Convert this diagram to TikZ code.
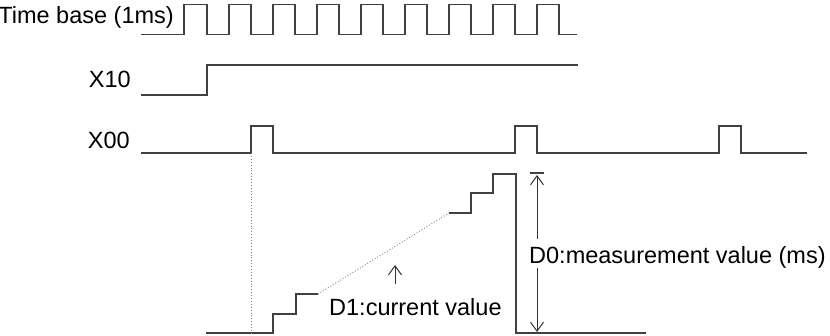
\documentclass[tikz,border=0pt]{standalone}
\usepackage{fontspec}
\setmainfont{Liberation Sans}
\usetikzlibrary{arrows.meta}

\begin{document}
\begin{tikzpicture}[
  x=1pt, y=-1pt,
  every node/.style={font=\fontsize{23.5}{27}\selectfont, inner sep=0pt},
  wave/.style={line width=1.3pt, black!75},
  guide/.style={line width=0.9pt, gray, dotted},
  arr/.style={-{Straight Barb[length=9pt, width=13pt]}, line width=1pt, black!80}
]
\useasboundingbox (0,0) rectangle (830,335);

%% Signal names
\node[anchor=base east] (tb)  at (174,23)  {Time base (1ms)};
\node[anchor=base east] (x10) at (131,87)  {X10};
\node[anchor=base east] (x00) at (130,148) {X00};

%% Time base (1ms)
\draw[wave] (141,34.5) -- (184,34.5) |- (207,4.7) |- (229,34.5) |- (251,4.7)
  |- (273,34.5) |- (295,4.7) |- (317,34.5) |- (339,4.7) |- (361,34.5)
  |- (383,4.7) |- (405,34.5) |- (427,4.7) |- (449,34.5) |- (471,4.7)
  |- (493,34.5) |- (515,4.7) |- (537,34.5) |- (559,4.7) |- (577,34.5);

%% X10
\draw[wave] (141,95) -- (207,95) |- (578,65);

%% X00
\draw[wave] (141,153) -- (251,153) |- (273,126) |- (515,153) |- (537,126)
  |- (719,153) |- (741,126) |- (807,153);

%% D1 stairs
\draw[wave] (206,333) -- (273,333) |- (296,314) |- (318,294);
\draw[guide] (318,294) -- (449,213);
\draw[wave] (449,213) -- (471,213) |- (493,193) |- (516,174) -- (516,333) -- (646,333);

% start marker
\draw[guide] (251,153) -- (251,333);

%% D0 measurement
\draw[wave] (530,173) -- (544,173);
\node[anchor=base west] (d0) at (529,263) {D0:measurement value (ms)};
\coordinate (d0top) at (537,175);
\coordinate (d0bot) at (537,332);
\draw[arr, shorten <=7pt] (d0.north west -| d0top) -- (d0top);
\draw[arr] (d0.south west -| d0bot) -- (d0bot);

%% D1 current value
\node[anchor=base west] (d1) at (329,315) {D1:current value};
\coordinate (d1tip) at (395,265);
\draw[arr, shorten <=14pt] (d1.north -| d1tip) -- (d1tip);

\end{tikzpicture}
\end{document}
